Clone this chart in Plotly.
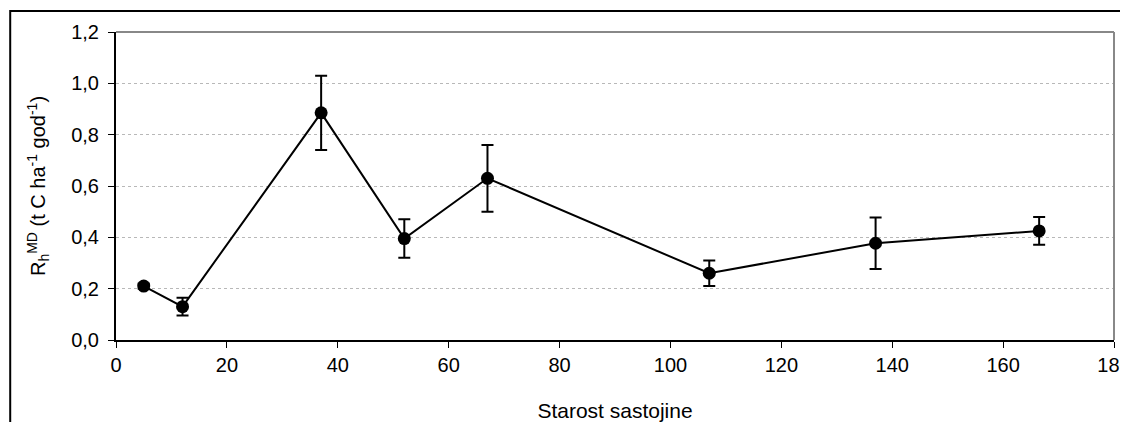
import plotly.graph_objects as go

# stand age (years) and heterotrophic respiration with standard error
age = [5, 12, 37, 52, 67, 107, 137, 166.5]
rh = [0.21, 0.13, 0.885, 0.395, 0.63, 0.26, 0.377, 0.425]
rh_err = [0.01, 0.035, 0.145, 0.075, 0.13, 0.05, 0.10, 0.054]

x_ticks = [0, 20, 40, 60, 80, 100, 120, 140, 160, 180]
y_ticks = [0.0, 0.2, 0.4, 0.6, 0.8, 1.0, 1.2]

fig = go.Figure()
fig.add_trace(go.Scatter(
    x=age, y=rh,
    mode="lines+markers",
    line=dict(color="black", width=2),
    marker=dict(color="black", size=13),
    error_y=dict(type="data", array=rh_err, color="black", thickness=2, width=6),
    showlegend=False,
))

font = dict(family="Liberation Sans, Arial, sans-serif", size=20, color="black")

# page body has an 8px margin, so the figure is 16px smaller than the window
fig.update_layout(
    width=1112, height=414,
    margin=dict(l=108, r=6, t=24, b=82),
    paper_bgcolor="white", plot_bgcolor="white",
    separators=",.",
    font=font,
    xaxis=dict(
        range=[0, 180], tickvals=x_ticks, ticks="outside", ticklen=6, tickcolor="black",
        ticklabeloverflow="allow", automargin=False,
        showline=True, linecolor="black", linewidth=2, showgrid=False, zeroline=False,
        title=dict(text="Starost sastojine", standoff=33, font=dict(size=21)),
    ),
    yaxis=dict(
        range=[0, 1.2], tickvals=y_ticks, tickformat=".1f", ticks="outside", ticklen=6,
        ticklabelstandoff=5, automargin=False,
        tickcolor="black", showline=True, linecolor="black", linewidth=2,
        showgrid=True, gridcolor="#b8b8b8", griddash="dot", gridwidth=1, zeroline=False,
        title=dict(text="R<sub>h</sub><sup>MD</sup> (t C ha<sup>-1</sup> god<sup>-1</sup>)",
                   standoff=20, font=dict(size=20)),
    ),
)

# grey frame on top and right of the plot area
fig.add_shape(type="line", xref="paper", yref="paper", x0=0, x1=1, y0=1, y1=1,
              line=dict(color="#888888", width=2))
fig.add_shape(type="line", xref="paper", yref="paper", x0=1, x1=1, y0=0, y1=1,
              line=dict(color="#888888", width=2))
# outer black border of the chart
fig.add_shape(type="rect", xref="paper", yref="paper", x0=-0.106, x1=1.05, y0=-0.35, y1=1.068,
              line=dict(color="black", width=2), layer="below")

fig.write_html("out.html")
